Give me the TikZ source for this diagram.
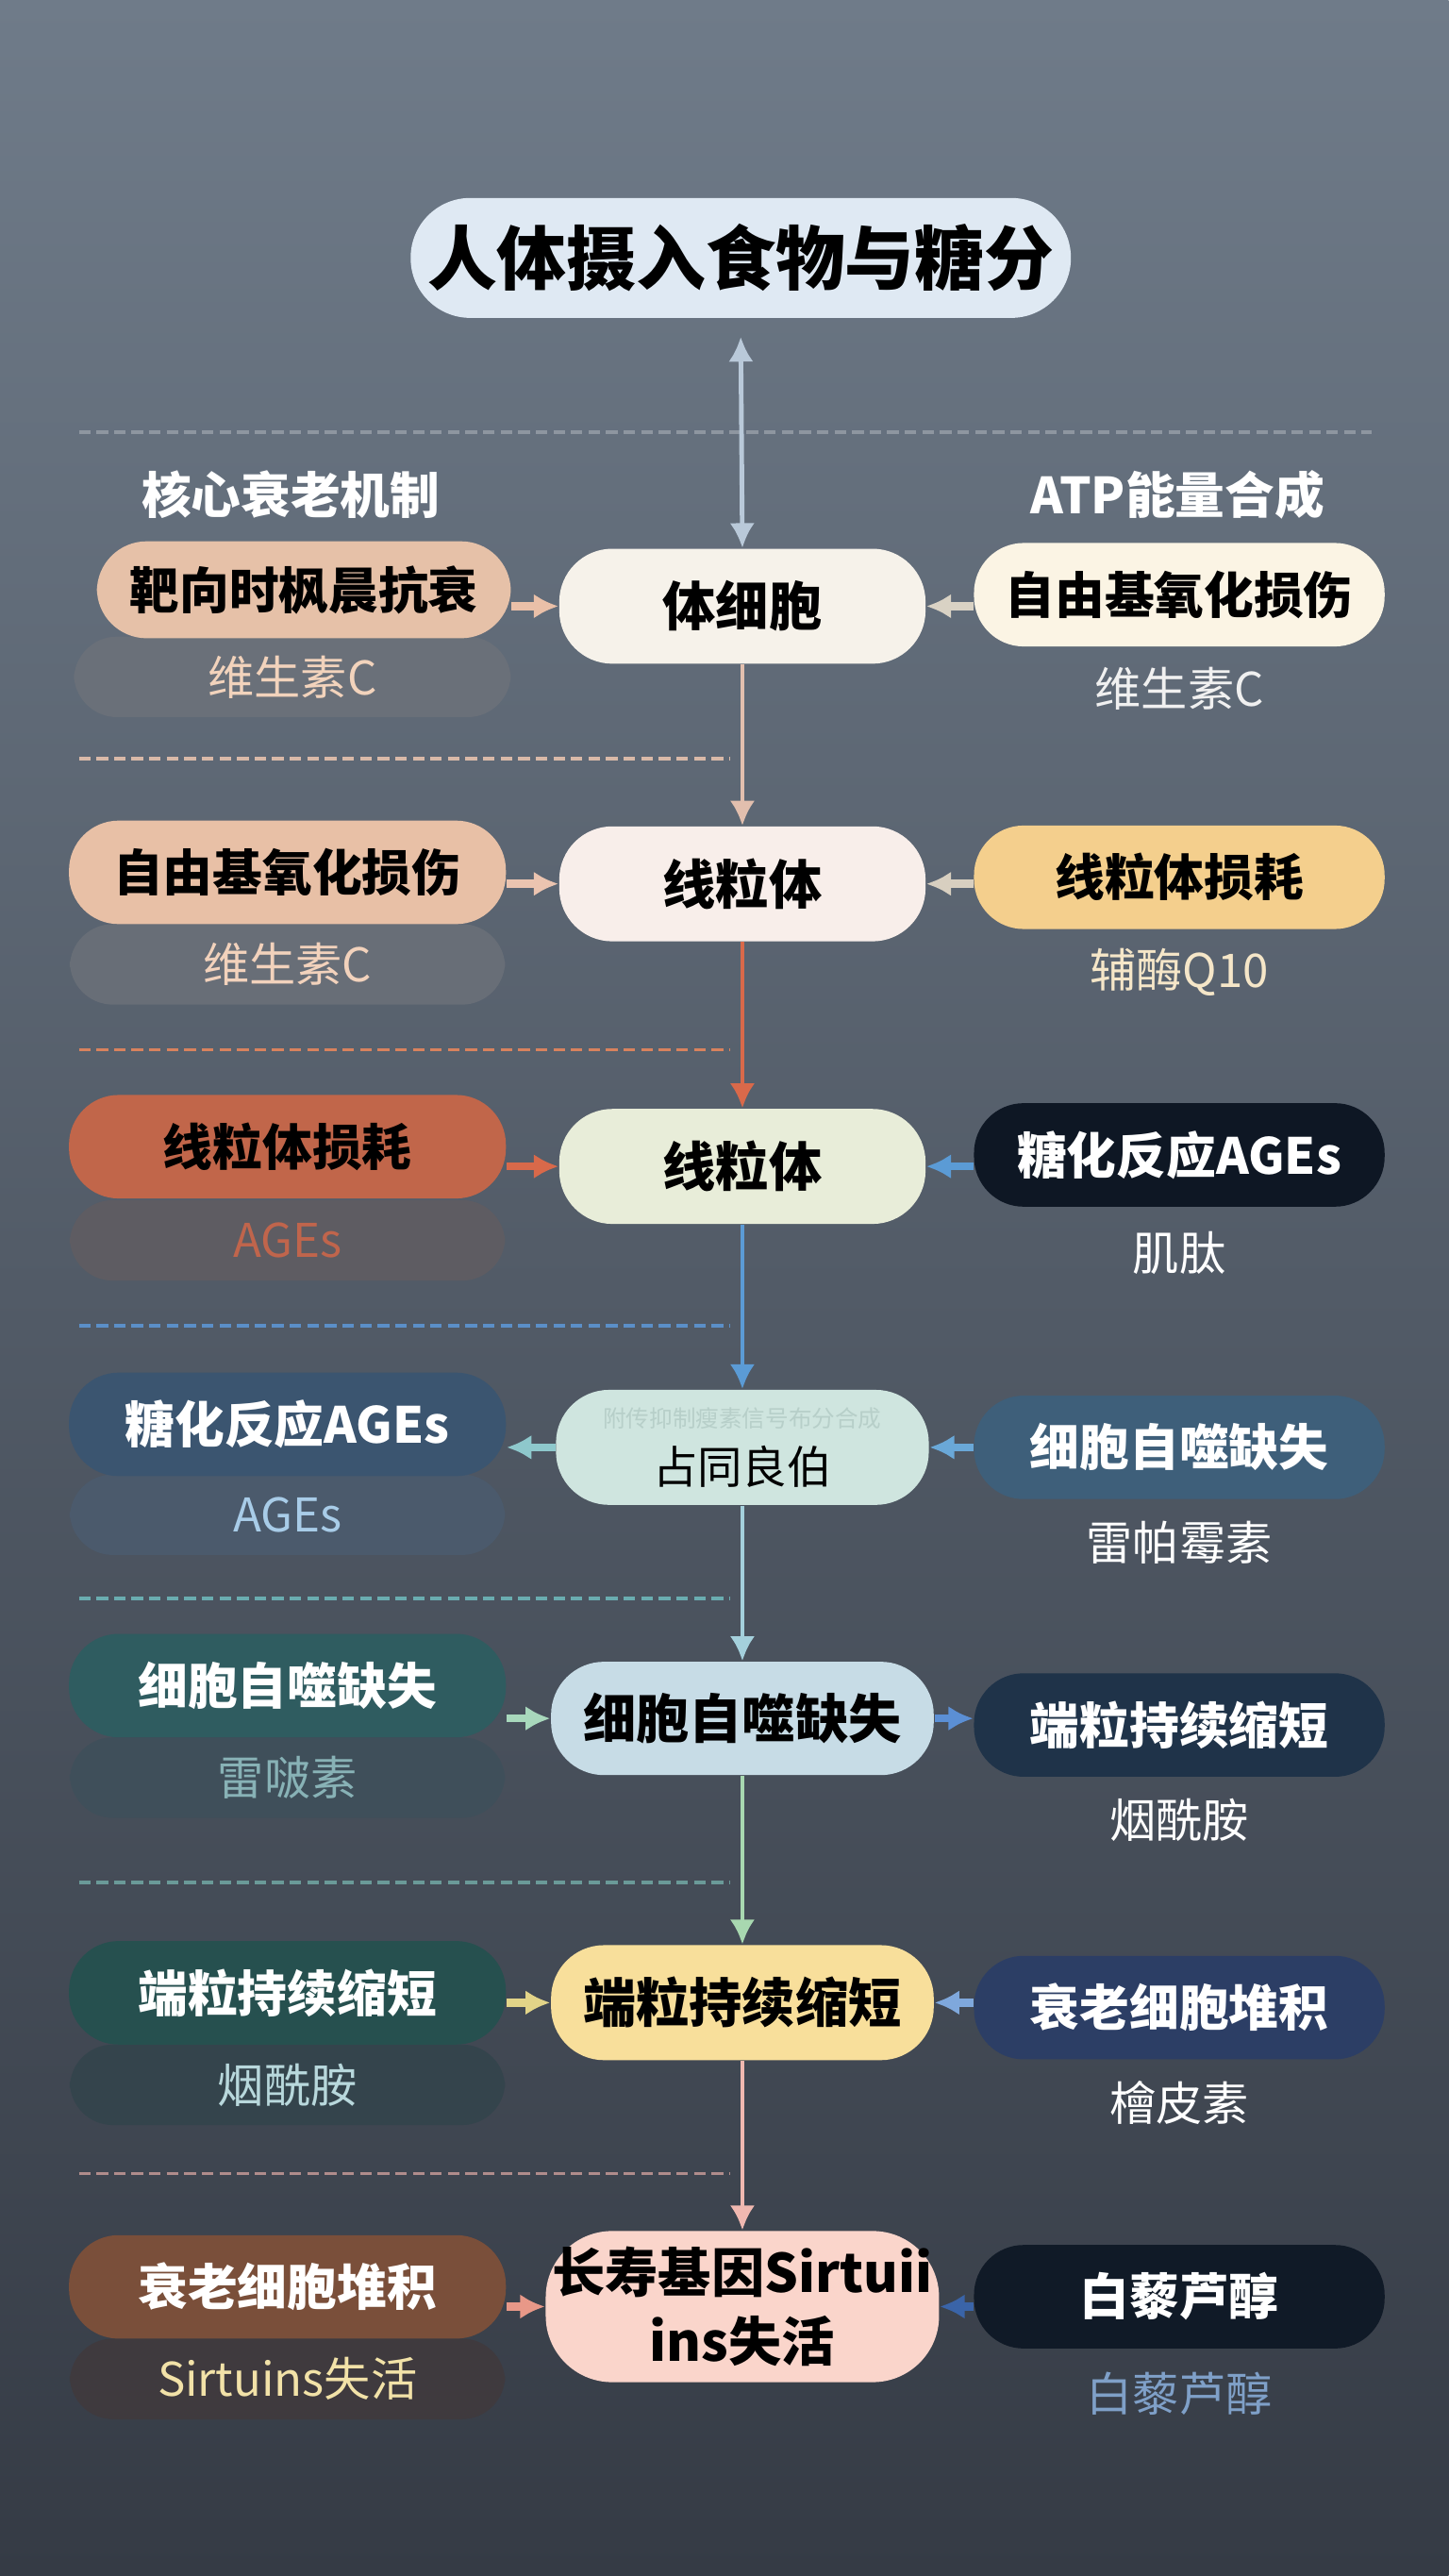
\documentclass[tikz,border=0pt]{standalone}
\usepackage{fontspec}
\setmainfont{Noto Sans CJK SC}
\usepackage{tikz}
\usetikzlibrary{arrows.meta,calc}
\newcommand{\myunit}{0.017415cm}
\definecolor{bgtop}{HTML}{6F7B89}
\definecolor{bgmid}{HTML}{545E6B}
\definecolor{bgbot}{HTML}{353B45}
% separators
\definecolor{sepA}{HTML}{8E96A0}
\definecolor{sepB}{HTML}{D9B9A8}
\definecolor{sepC}{HTML}{D8825E}
\definecolor{sepD}{HTML}{5B8FC8}
\definecolor{sepE}{HTML}{6AACB0}
\definecolor{sepF}{HTML}{6A9A98}
\definecolor{sepG}{HTML}{B08C8C}
% boxes
\definecolor{titlefill}{HTML}{DFE9F3}
\definecolor{rowAl}{HTML}{E6C1A8}\definecolor{rowAs}{HTML}{6A7079}\definecolor{rowAst}{HTML}{F2D3BC}
\definecolor{rowAc}{HTML}{F6F2EA}\definecolor{rowAr}{HTML}{FBF4E4}\definecolor{rowArt}{HTML}{F0F0F0}
\definecolor{rowBl}{HTML}{E8C0A6}\definecolor{rowBs}{HTML}{686E77}\definecolor{rowBst}{HTML}{F2D2BC}
\definecolor{rowBc}{HTML}{F8EEEA}\definecolor{rowBr}{HTML}{F4CF8D}\definecolor{rowBrt}{HTML}{F5E6C8}
\definecolor{rowCl}{HTML}{C1664A}\definecolor{rowCs}{HTML}{5E5C62}\definecolor{rowCst}{HTML}{C0654C}
\definecolor{rowCc}{HTML}{E8EDD9}\definecolor{rowCr}{HTML}{0E1724}
\definecolor{rowDl}{HTML}{3B5570}\definecolor{rowDs}{HTML}{4B5A6C}\definecolor{rowDst}{HTML}{A8CCE8}
\definecolor{rowDc}{HTML}{CFE5DF}\definecolor{rowDct}{HTML}{B7CFC9}\definecolor{rowDr}{HTML}{3E5F7A}
\definecolor{rowEl}{HTML}{2F5C60}\definecolor{rowEs}{HTML}{3F4F5A}\definecolor{rowEst}{HTML}{88B2B6}
\definecolor{rowEc}{HTML}{C7DCE6}\definecolor{rowEr}{HTML}{1F3349}
\definecolor{rowFl}{HTML}{26504F}\definecolor{rowFs}{HTML}{34444C}\definecolor{rowFst}{HTML}{B8D8DC}
\definecolor{rowFc}{HTML}{F8DF9B}\definecolor{rowFr}{HTML}{2C3E65}
\definecolor{rowGl}{HTML}{7A4F3A}\definecolor{rowGs}{HTML}{3F3A3E}\definecolor{rowGst}{HTML}{F2E2A8}
\definecolor{rowGc}{HTML}{FAD5CB}\definecolor{rowGr}{HTML}{101A27}\definecolor{rowGrt}{HTML}{7FA0C8}
% arrows
\definecolor{arrT}{HTML}{B9C9D9}
\definecolor{arrA}{HTML}{E2BFAE}\definecolor{arrB}{HTML}{D9694A}\definecolor{arrC}{HTML}{5B9BD5}
\definecolor{arrD}{HTML}{A4D0DC}\definecolor{arrE}{HTML}{A8D8B0}\definecolor{arrF}{HTML}{F0B8B0}
\definecolor{lnkAl}{HTML}{EAC0A8}\definecolor{lnkAr}{HTML}{D9D2C4}
\definecolor{lnkBl}{HTML}{EBC4B0}\definecolor{lnkBr}{HTML}{D8CFC0}
\definecolor{lnkDl}{HTML}{8EC8CC}\definecolor{lnkDr}{HTML}{6AA8D8}
\definecolor{lnkEl}{HTML}{A8D8BC}\definecolor{lnkEr}{HTML}{5B8FD5}
\definecolor{lnkFl}{HTML}{E2D488}\definecolor{lnkFr}{HTML}{7FA8DC}
\definecolor{lnkGl}{HTML}{E89888}\definecolor{lnkGr}{HTML}{3A64A8}
\tikzset{
    node style main/.style={rounded corners=16pt,minimum width={223*\myunit},minimum height={70*\myunit},inner sep=2pt,font=\fontsize{16}{19}\selectfont\bfseries,align=center},
    node style side/.style={rounded corners=15pt,minimum width={250*\myunit},minimum height={63*\myunit},inner sep=2pt,font=\fontsize{15}{18}\selectfont\bfseries},
    node style sub/.style={rounded corners=13pt,minimum width={265*\myunit},minimum height={49*\myunit},inner sep=2pt,font=\fontsize{14}{17}\selectfont},
    node style note/.style={font=\fontsize{14}{17}\selectfont},
    node style head/.style={text=white,font=\fontsize{15}{18}\selectfont\bfseries},
    arrow style side/.style={->,line width=2.4pt},
    arrow style down/.style={->,line width=1.4pt},
    line style sep/.style={line width=1.1pt,dash pattern=on 3.5pt off 1.8pt},
}

\begin{document}
\begin{tikzpicture}[x=\myunit,y=-\myunit,>={Latex[length=7.5pt,width=7.5pt]}]
   \shade [top color=bgtop,middle color=bgmid,bottom color=bgbot] (0,0) rectangle (882,1568);
   \useasboundingbox (0,0) rectangle (882,1568);

   % separators
   \draw [line style sep,color=sepA] (48,263) -- (835,263);
   \draw [line style sep,color=sepB] (48,462) -- (444,462);
   \draw [line style sep,color=sepC] (48,639) -- (444,639);
   \draw [line style sep,color=sepD] (48,807) -- (444,807);
   \draw [line style sep,color=sepE] (48,973) -- (444,973);
   \draw [line style sep,color=sepF] (48,1146) -- (444,1146);
   \draw [line style sep,color=sepG] (48,1323) -- (444,1323);

   \node (T) [rounded corners=18pt,fill=titlefill,minimum width={402*\myunit},minimum height={73*\myunit},font=\fontsize{21}{25}\selectfont\bfseries] at (451,157) {人体摄入食物与糖分};
   \node (hl) [node style head] at (177,301) {核心衰老机制};
   \node (hr) [node style head] at (717,301) {ATP能量合成};

   % row 1
   \node (L1s) [node style sub,fill=rowAs,text=rowAst,minimum width={266*\myunit}] at (178,412) {维生素C};
   \node (L1) [node style side,fill=rowAl,minimum width={252*\myunit},minimum height={59*\myunit}] at (185,359) {靶向时枫晨抗衰};
   \node (C1) [node style main,fill=rowAc] at (452,369) {体细胞};
   \node (R1) [node style side,fill=rowAr] at (718,362) {自由基氧化损伤};
   \node (R1s) [node style note,text=rowArt] at (718,419) {维生素C};

   % row 2
   \node (L2s) [node style sub,fill=rowBs,text=rowBst] at (175,587) {维生素C};
   \node (L2) [node style side,fill=rowBl,minimum width={266*\myunit}] at (175,531) {自由基氧化损伤};
   \node (C2) [node style main,fill=rowBc] at (452,538) {线粒体};
   \node (R2) [node style side,fill=rowBr] at (718,534) {线粒体损耗};
   \node (R2s) [node style note,text=rowBrt] at (718,592) {辅酶Q10};

   % row 3
   \node (L3s) [node style sub,fill=rowCs,text=rowCst] at (175,755) {AGEs};
   \node (L3) [node style side,fill=rowCl,minimum width={266*\myunit}] at (175,698) {线粒体损耗};
   \node (C3) [node style main,fill=rowCc] at (452,710) {线粒体};
   \node (R3) [node style side,fill=rowCr,text=white] at (718,703) {糖化反应AGEs};
   \node (R3s) [node style note,text=white] at (718,763) {肌肽};

   % row 4
   \node (L4s) [node style sub,fill=rowDs,text=rowDst] at (175,922) {AGEs};
   \node (L4) [node style side,fill=rowDl,text=white,minimum width={266*\myunit}] at (175,867) {糖化反应AGEs};
   \node (C4) [node style main,fill=rowDc,minimum width={227*\myunit},font=\fontsize{13.5}{17}\selectfont] at (452,881) {{\fontsize{7}{9}\selectfont\color{rowDct}附传抑制瘦素信号布分合成}\\占同良伯};
   \node (R4) [node style side,fill=rowDr,text=white] at (718,881) {细胞自噬缺失};
   \node (R4s) [node style note,text=white] at (718,939) {雷帕霉素};

   % row 5
   \node (L5s) [node style sub,fill=rowEs,text=rowEst] at (175,1082) {雷啵素};
   \node (L5) [node style side,fill=rowEl,text=white,minimum width={266*\myunit}] at (175,1026) {细胞自噬缺失};
   \node (C5) [node style main,fill=rowEc,minimum width={233*\myunit},minimum height={69*\myunit}] at (452,1046) {细胞自噬缺失};
   \node (R5) [node style side,fill=rowEr,text=white] at (718,1050) {端粒持续缩短};
   \node (R5s) [node style note,text=white] at (718,1108) {烟酰胺};

   % row 6
   \node (L6s) [node style sub,fill=rowFs,text=rowFst] at (175,1269) {烟酰胺};
   \node (L6) [node style side,fill=rowFl,text=white,minimum width={266*\myunit}] at (175,1213) {端粒持续缩短};
   \node (C6) [node style main,fill=rowFc,minimum width={233*\myunit}] at (452,1219) {端粒持续缩短};
   \node (R6) [node style side,fill=rowFr,text=white] at (718,1222) {衰老细胞堆积};
   \node (R6s) [node style note,text=white] at (718,1280) {檜皮素};

   % row 7
   \node (L7s) [node style sub,fill=rowGs,text=rowGst] at (175,1448) {Sirtuins失活};
   \node (L7) [node style side,fill=rowGl,text=white,minimum width={266*\myunit}] at (175,1392) {衰老细胞堆积};
   \node (C7) [node style main,fill=rowGc,minimum width={235*\myunit},minimum height={92*\myunit},rounded corners=20pt,font=\fontsize{16}{21}\selectfont\bfseries] at (452,1404) {长寿基因Sirtuii\\ins失活};
   \node (R7) [node style side,fill=rowGr,text=white] at (718,1398) {白藜芦醇};
   \node (R7s) [node style note,text=rowGrt] at (718,1457) {白藜芦醇};

   % main column
   \coordinate (tA) at (451,205);
   \draw [<->,line width=1.4pt,color=arrT] (tA) -- (C1.north);
   \draw [arrow style down,color=arrA] (C1.south) -- (C2.north);
   \draw [arrow style down,color=arrB] (C2.south) -- (C3.north);
   \draw [arrow style down,color=arrC] (C3.south) -- (C4.north);
   \draw [arrow style down,color=arrD] (C4.south) -- (C5.north);
   \draw [arrow style down,color=arrE] (C5.south) -- (C6.north);
   \draw [arrow style down,color=arrF] (C6.south) -- (C7.north);

   % side links
   \draw [arrow style side,color=lnkAl] (L1.east |- C1.west) -- (C1.west);
   \draw [arrow style side,color=lnkAr] (R1.west |- C1.east) -- (C1.east);
   \draw [arrow style side,color=lnkBl] (L2.east |- C2.west) -- (C2.west);
   \draw [arrow style side,color=lnkBr] (R2.west |- C2.east) -- (C2.east);
   \draw [arrow style side,color=arrB] (L3.east |- C3.west) -- (C3.west);
   \draw [arrow style side,color=arrC] (R3.west |- C3.east) -- (C3.east);
   \draw [arrow style side,color=lnkDl] (C4.west) -- (C4.west -| L4.east);
   \draw [arrow style side,color=lnkDr] (R4.west |- C4.east) -- (C4.east);
   \draw [arrow style side,color=lnkEl] (L5.east |- C5.west) -- (C5.west);
   \draw [arrow style side,color=lnkEr] (C5.east) -- (C5.east -| R5.west);
   \draw [arrow style side,color=lnkFl] (L6.east |- C6.west) -- (C6.west);
   \draw [arrow style side,color=lnkFr] (R6.west |- C6.east) -- (C6.east);
   \draw [arrow style side,color=lnkGl] (L7.east |- C7.west) -- (C7.west);
   \draw [arrow style side,color=lnkGr] (R7.west |- C7.east) -- (C7.east);
\end{tikzpicture}
\end{document}
